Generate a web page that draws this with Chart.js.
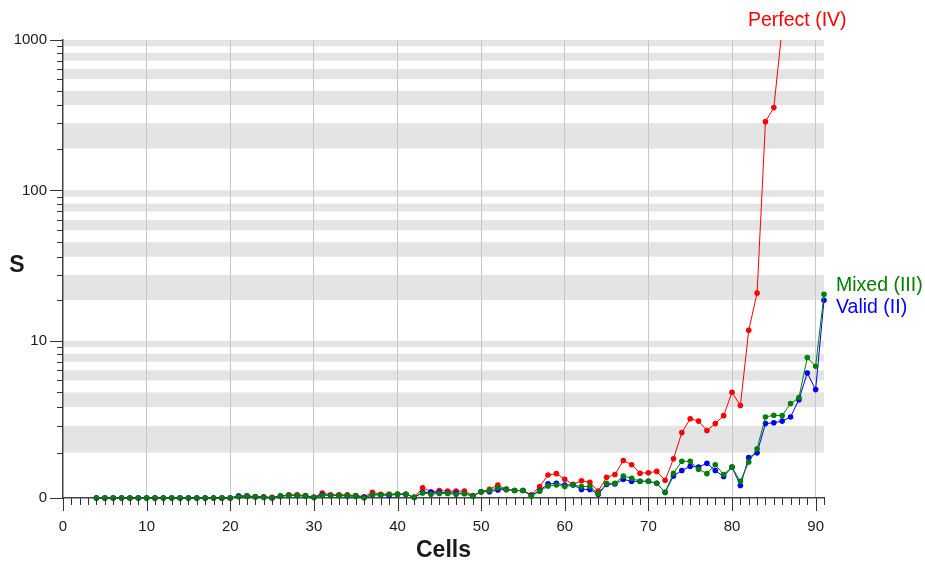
<!DOCTYPE html>
<html>
<head>
<meta charset="utf-8">
<script src="https://cdn.jsdelivr.net/npm/chart.js@4.4.1/dist/chart.umd.min.js"></script>
<style>
  body { margin: 0; background: #fff; }
  #wrap { width: 925px; height: 562px; }
</style>
</head>
<body>
<div id="wrap"><canvas id="myChart" width="925" height="562"></canvas></div>
<script>
// cells on the x axis
var cells = [4, 5, 6, 7, 8, 9, 10, 11, 12, 13, 14, 15, 16, 17, 18, 19, 20,
    21, 22, 23, 24, 25, 26, 27, 28, 29, 30, 31, 32, 33, 34, 35, 36, 37, 38, 39, 40,
    41, 42, 43, 44, 45, 46, 47, 48, 49, 50, 51, 52, 53, 54, 55, 56, 57, 58, 59, 60,
    61, 62, 63, 64, 65, 66, 67, 68, 69, 70, 71, 72, 73, 74, 75, 76, 77, 78, 79, 80,
    81, 82, 83, 84, 85, 86, 87, 88, 89, 90, 91];

var perfect = [0, 0, 0, 0, 0, 0, 0, 0, 0, 0, 0, 0, 0, 0, 0, 0, 0,
    0.03, 0.03, 0.02, 0.02, 0.01, 0.03, 0.05, 0.05, 0.04, 0.01,
    0.08, 0.05, 0.05, 0.05, 0.04, 0.02, 0.09, 0.06, 0.06, 0.06,
    0.06, 0.01, 0.17, 0.10, 0.12, 0.11, 0.11, 0.11, 0.04, 0.10,
    0.14, 0.22, 0.14, 0.12, 0.12, 0.05, 0.19, 0.42, 0.45, 0.33,
    0.23, 0.30, 0.27, 0.11, 0.37, 0.43, 0.77, 0.66, 0.46, 0.47,
    0.50, 0.31, 0.82, 1.71, 2.35, 2.23, 1.80, 2.11, 2.51, 4.01,
    3.09, 11.85, 21.2, 287, 356, 1200, null, null, null, null, null];

var valid = [0, 0, 0, 0, 0, 0, 0, 0, 0, 0, 0, 0, 0, 0, 0, 0, 0,
    0.03, 0.03, 0.02, 0.01, 0, 0.03, 0.04, 0.04, 0.03, 0.01,
    0.05, 0.04, 0.04, 0.03, 0.03, 0.01, 0.05, 0.05, 0.04, 0.06,
    0.06, 0.01, 0.09, 0.09, 0.09, 0.08, 0.08, 0.07, 0.03, 0.10,
    0.10, 0.13, 0.14, 0.12, 0.12, 0.04, 0.12, 0.24, 0.25, 0.22,
    0.22, 0.14, 0.14, 0.06, 0.23, 0.24, 0.33, 0.29, 0.29, 0.29,
    0.25, 0.09, 0.40, 0.52, 0.62, 0.60, 0.70, 0.52, 0.39, 0.60,
    0.21, 0.85, 0.99, 2.11, 2.15, 2.23, 2.44, 3.48, 5.73, 4.22, 19.0];

var mixed = [0, 0, 0, 0, 0, 0, 0, 0, 0, 0, 0, 0, 0, 0, 0, 0, 0,
    0.02, 0.03, 0.02, 0.01, 0, 0.03, 0.04, 0.04, 0.03, 0.01,
    0.04, 0.04, 0.04, 0.04, 0.03, 0, 0.05, 0.05, 0.06, 0.06,
    0.06, 0.01, 0.08, 0.06, 0.07, 0.07, 0.06, 0.07, 0.03, 0.10,
    0.12, 0.17, 0.14, 0.12, 0.12, 0.03, 0.11, 0.20, 0.22, 0.19,
    0.22, 0.19, 0.19, 0.07, 0.25, 0.25, 0.40, 0.35, 0.29, 0.29,
    0.25, 0.09, 0.46, 0.75, 0.75, 0.55, 0.45, 0.66, 0.43, 0.60,
    0.29, 0.73, 1.12, 2.44, 2.53, 2.51, 3.22, 3.62, 7.51, 6.45, 20.8];

var xTicks = [0, 10, 20, 30, 40, 50, 60, 70, 80, 90];
var yTicks = [0, 10, 100, 1000];
var yTickLabels = ['0', '10', '100', '1000'];
var decades = [[0, 10], [10, 100], [100, 1000]];

var FONT = "'Liberation Sans', Arial, Helvetica, sans-serif";
var H0 = 1.046; // first decade (0..10) is a little taller

// log(1+S) within each decade, decades stacked
function toU(s) {
    if (s == null) return null;
    if (s <= 10) return H0 * Math.log10(1 + s) / Math.log10(11);
    var n = Math.floor(Math.log10(s) + 1e-9);
    var lo = Math.pow(10, n), hi = Math.pow(10, n + 1);
    return H0 + (n - 1) + (Math.log10(1 + s) - Math.log10(1 + lo)) / (Math.log10(1 + hi) - Math.log10(1 + lo));
}

function pts(vals) {
    return cells.map(function (c, i) { return {x: c, y: toU(vals[i])}; });
}

var decor = {
    id: 'decor',
    beforeDraw: function (chart) {
        var c = chart.ctx, a = chart.chartArea, ys = chart.scales.y;
        c.save();
        c.fillStyle = '#e4e4e4';
        decades.forEach(function (d) {
            var step = (d[1] - d[0]) / 10;
            [1, 3, 5, 7, 9].forEach(function (j) {
                var y1 = ys.getPixelForValue(toU(d[0] + j * step));
                var y2 = ys.getPixelForValue(toU(d[0] + (j + 1) * step));
                c.fillRect(a.left, y2, a.right - a.left, y1 - y2);
            });
        });
        c.restore();
    },
    afterDraw: function (chart) {
        var c = chart.ctx, a = chart.chartArea, xs = chart.scales.x, ys = chart.scales.y;
        c.save();
        c.strokeStyle = '#333';
        c.lineWidth = 1;
        c.beginPath();
        for (var i = 0; i <= 91; i++) {
            var px = Math.round(xs.getPixelForValue(i)) + 0.5;
            c.moveTo(px, a.bottom);
            c.lineTo(px, a.bottom + (i % 10 === 0 ? 13 : 7));
        }
        yTicks.forEach(function (v) {
            var py = Math.round(ys.getPixelForValue(toU(v))) + 0.5;
            c.moveTo(a.left - 13, py);
            c.lineTo(a.left, py);
        });
        decades.forEach(function (d) {
            var step = (d[1] - d[0]) / 10;
            for (var j = 1; j < 10; j++) {
                var py = Math.round(ys.getPixelForValue(toU(d[0] + j * step))) + 0.5;
                c.moveTo(a.left - 6, py);
                c.lineTo(a.left, py);
            }
        });
        c.stroke();

        c.fillStyle = '#1a1a1a';
        c.font = 'bold 23px ' + FONT;
        c.textAlign = 'center';
        c.textBaseline = 'middle';
        c.fillText('S', 17, 266);

        c.font = '19.5px ' + FONT;
        c.textAlign = 'left';
        c.fillStyle = '#ff0000';
        c.fillText('Perfect (IV)', 748, 21);
        c.fillStyle = '#008000';
        c.fillText('Mixed (III)', 836, 286);
        c.fillStyle = '#0000ff';
        c.fillText('Valid (II)', 836, 308);
        c.restore();
    }
};

var ctx = document.getElementById('myChart').getContext('2d');

var myChart = new Chart(ctx, {
    type: 'line',
    data: {
        datasets: [{
            label: 'Mixed (III)',
            data: pts(mixed),
            borderColor: '#008000',
            backgroundColor: '#008000'
        }, {
            label: 'Valid (II)',
            data: pts(valid),
            borderColor: '#0000ff',
            backgroundColor: '#0000ff'
        }, {
            label: 'Perfect (IV)',
            data: pts(perfect),
            borderColor: '#ff0000',
            backgroundColor: '#ff0000'
        }]
    },
    options: {
        responsive: false,
        devicePixelRatio: 1,
        animation: false,
        layout: {padding: {top: 40, right: 101, left: 0, bottom: 0}},
        elements: {
            line: {borderWidth: 1, tension: 0},
            point: {radius: 2.8, borderWidth: 0, hoverRadius: 2.8}
        },
        datasets: {line: {clip: {left: 6, top: 0, right: 8, bottom: 8}, spanGaps: false}},
        plugins: {legend: {display: false}, tooltip: {enabled: false}},
        scales: {
            x: {
                type: 'linear',
                min: 0,
                max: 91,
                afterBuildTicks: function (s) { s.ticks = xTicks.map(function (v) { return {value: v}; }); },
                afterFit: function (s) { s.height = 64; },
                ticks: {color: '#1a1a1a', font: {family: FONT, size: 15}, padding: 7, maxRotation: 0},
                grid: {
                    color: function (c) { return c.tick && c.tick.value > 0 ? '#c8c8c8' : 'transparent'; },
                    lineWidth: 1,
                    drawTicks: true,
                    tickLength: 13,
                    tickColor: 'transparent'
                },
                border: {display: true, color: '#444', width: 1.5},
                title: {
                    display: true,
                    text: 'Cells',
                    color: '#1a1a1a',
                    font: {family: FONT, size: 23, weight: 'bold', lineHeight: 1},
                    padding: {top: 0, bottom: 0}
                }
            },
            y: {
                type: 'linear',
                min: 0,
                max: toU(1000),
                afterBuildTicks: function (s) { s.ticks = yTicks.map(function (v) { return {value: toU(v)}; }); },
                afterFit: function (s) { s.width = 63; },
                ticks: {
                    color: '#1a1a1a',
                    font: {family: FONT, size: 15},
                    padding: 3,
                    callback: function (v, i) { return yTickLabels[i]; }
                },
                grid: {display: false, drawTicks: true, tickLength: 13},
                border: {display: true, color: '#444', width: 1.5}
            }
        }
    },
    plugins: [decor]
});
</script>
</body>
</html>
